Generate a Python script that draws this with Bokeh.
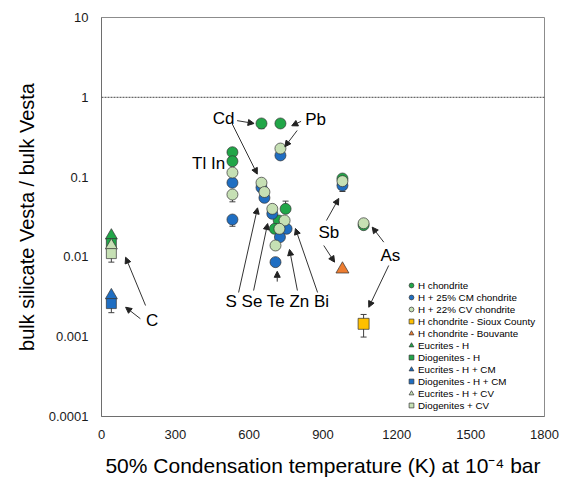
from bokeh.plotting import figure
from bokeh.models import (ColumnDataSource, FixedTicker, CustomJSTickFormatter, Span,
                          Whisker, TeeHead, Arrow, NormalHead, Legend, LegendItem, Range1d)
from bokeh.core.properties import value
from bokeh.embed import file_html
from bokeh.resources import INLINE

# ---------------- data ----------------
# H chondrite (green circles)
h_T = [650, 727, 532, 532, 748, 720, 704, 979, 1065]
h_v = [0.47, 0.47, 0.205, 0.158, 0.040, 0.0286, 0.0225, 0.096, 0.025]
# H + 25% CM chondrite (blue circles)
cm_T = [727, 532, 532, 650, 662, 694, 752, 725, 707, 979]
cm_v = [0.187, 0.085, 0.0294, 0.074, 0.055, 0.0347, 0.0225, 0.0177, 0.0086, 0.0785]
# H + 22% CV chondrite (light green circles)
cv_T = [727, 532, 532, 650, 662, 694, 744, 723, 707, 979, 1065]
cv_v = [0.228, 0.114, 0.0605, 0.085, 0.065, 0.040, 0.0286, 0.0225, 0.0139, 0.089, 0.0264]
# single samples
sioux_T, sioux_v = [1065], [0.00145]
bouv_T, bouv_v = [979], [0.0070]
# carbon (C) group
c_T = [40]
euc_h_v = [0.0185]
dio_h_v = [0.0147]
euc_cm_v = [0.0033]
dio_cm_v = [0.0026]
euc_cv_v = [0.0139]
dio_cv_v = [0.0110]

# error bars
err_T = [650, 532, 532, 748, 979, 40, 40, 1065]
err_lo = [0.405, 0.049, 0.0242, 0.040, 0.066, 0.0086, 0.0020, 0.00099]
err_hi = [0.47, 0.0605, 0.0294, 0.050, 0.0785, 0.0110, 0.0026, 0.0019]

# element labels
lab_text = ["Cd", "Pb", "Tl In", "S Se Te Zn Bi", "Sb", "As", "C"]
lab_T = [496, 870, 435, 715, 924, 1174, 206]
lab_v = [0.542, 0.527, 0.148, 0.00276, 0.0204, 0.0104, 0.0016]

# annotation arrows (tail -> head)
arr_T0 = [551, 531, 811, 795, 557, 618, 714, 796, 878, 914, 903, 1147, 1167, 179, 158]
arr_v0 = [0.51, 0.465, 0.50, 0.384, 0.00358, 0.00379, 0.0049, 0.00379, 0.00358, 0.0286, 0.0139, 0.0153, 0.0078, 0.00246, 0.00168]
arr_T1 = [620, 633, 773, 745, 634, 675, 714, 764, 788, 964, 947, 1100, 1086, 98, 98]
arr_v1 = [0.47, 0.109, 0.44, 0.24, 0.0412, 0.0262, 0.0066, 0.0124, 0.0227, 0.054, 0.0086, 0.0236, 0.00234, 0.0099, 0.00234]

x_ticks = [0, 300, 600, 900, 1200, 1500, 1800]
y_ticks = [0.0001, 0.001, 0.01, 0.1, 1, 10]
y_tick_labels = ["0.0001", "0.001", "0.01", "0.1", "1", "10"]

GREEN = "#21A648"
BLUE = "#1F6EC2"
LGREEN = "#C6E0B4"
GOLD = "#FFC000"
ORANGE = "#ED7D31"
EDGE = "#333333"
FONT = "Liberation Sans"

# ---------------- figure ----------------
p = figure(width=567, height=482, x_range=Range1d(0, 1800), y_range=Range1d(0.0001, 10),
           y_axis_type="log", output_backend="svg", toolbar_location=None,
           min_border_left=101, min_border_right=23, min_border_top=17, min_border_bottom=66)
p.background_fill_color = "white"
p.border_fill_color = "white"
p.outline_line_color = "#8c8c8c"
p.xgrid.visible = False
p.ygrid.visible = False

p.xaxis.ticker = FixedTicker(ticks=x_ticks, minor_ticks=[])
p.yaxis.ticker = FixedTicker(ticks=y_ticks, minor_ticks=[])
p.yaxis.formatter = CustomJSTickFormatter(args=dict(yt=y_ticks, yl=y_tick_labels), code="""
    for (let i = 0; i < yt.length; i++) {
        if (Math.abs(Math.log10(yt[i]) - Math.log10(tick)) < 1e-6) return yl[i];
    }
    return '';
""")
for ax in (p.xaxis, p.yaxis):
    ax.major_tick_out = 0
    ax.major_tick_in = 0
    ax.minor_tick_out = 0
    ax.minor_tick_in = 0
    ax.axis_line_color = "#6e6e6e"
    ax.major_label_text_font = FONT
    ax.major_label_text_font_size = "13px"
    ax.major_label_text_color = "#1a1a1a"
    ax.axis_label_text_font = FONT
    ax.axis_label_text_font_style = "normal"
    ax.axis_label_text_color = "#000000"

p.xaxis.axis_label = "50% Condensation temperature (K) at 10\u207b\u2074 bar"
p.xaxis.axis_label_text_font_size = "21px"
p.xaxis.major_label_standoff = 13
p.xaxis.axis_label_standoff = 12

p.yaxis.axis_label = "bulk silicate Vesta / bulk Vesta"
p.yaxis.axis_label_text_font_size = "20px"
p.yaxis.major_label_standoff = 13
p.yaxis.axis_label_standoff = 8

# reference line at 1
p.add_layout(Span(location=1, dimension="width", line_color="#444444", line_width=1, line_dash="2 1"))

# error bars
err_src = ColumnDataSource(dict(x=err_T, lo=err_lo, hi=err_hi))
p.add_layout(Whisker(source=err_src, base="x", lower="lo", upper="hi", dimension="height",
                     line_color="#404040", line_width=1,
                     lower_head=TeeHead(size=6, line_color="#404040", line_width=1),
                     upper_head=TeeHead(size=6, line_color="#404040", line_width=1)))

kw = dict(line_color=EDGE, line_width=0.7)
r_h = p.scatter(h_T, h_v, marker="circle", size=11, fill_color=GREEN, **kw)
r_cm = p.scatter(cm_T, cm_v, marker="circle", size=11, fill_color=BLUE, **kw)
r_cv = p.scatter(cv_T, cv_v, marker="circle", size=11, fill_color=LGREEN, **kw)
r_sioux = p.scatter(sioux_T, sioux_v, marker="square", size=11, fill_color=GOLD, **kw)
r_bouv = p.scatter(bouv_T, bouv_v, marker="triangle", size=13, fill_color=ORANGE, **kw)
r_euc_h = p.scatter(c_T, euc_h_v, marker="triangle", size=12, fill_color=GREEN, **kw)
r_dio_h = p.scatter(c_T, dio_h_v, marker="square", size=10, fill_color=GREEN, **kw)
r_euc_cm = p.scatter(c_T, euc_cm_v, marker="triangle", size=12, fill_color=BLUE, **kw)
r_dio_cm = p.scatter(c_T, dio_cm_v, marker="square", size=10, fill_color=BLUE, **kw)
r_euc_cv = p.scatter(c_T, euc_cv_v, marker="triangle", size=12, fill_color=LGREEN, **kw)
r_dio_cv = p.scatter(c_T, dio_cv_v, marker="square", size=10, fill_color=LGREEN, **kw)

# element labels
p.text(x=lab_T, y=lab_v, text=lab_text, text_font=value(FONT), text_font_size=value("17px"),
       text_align="center", text_baseline="middle", text_color="#000000")

# arrows
arr_src = ColumnDataSource(dict(x0=arr_T0, y0=arr_v0, x1=arr_T1, y1=arr_v1))
p.add_layout(Arrow(source=arr_src, x_start="x0", y_start="y0", x_end="x1", y_end="y1",
                   line_color="#333333", line_width=1,
                   end=NormalHead(size=6, fill_color="#222222", line_color="#222222", line_width=1)))

# legend
items = [
    LegendItem(label="H chondrite", renderers=[r_h]),
    LegendItem(label="H + 25% CM chondrite", renderers=[r_cm]),
    LegendItem(label="H + 22% CV chondrite", renderers=[r_cv]),
    LegendItem(label="H chondrite - Sioux County", renderers=[r_sioux]),
    LegendItem(label="H chondrite - Bouvante", renderers=[r_bouv]),
    LegendItem(label="Eucrites - H", renderers=[r_euc_h]),
    LegendItem(label="Diogenites - H", renderers=[r_dio_h]),
    LegendItem(label="Eucrites - H + CM", renderers=[r_euc_cm]),
    LegendItem(label="Diogenites - H + CM", renderers=[r_dio_cm]),
    LegendItem(label="Eucrites - H + CV", renderers=[r_euc_cv]),
    LegendItem(label="Diogenites + CV", renderers=[r_dio_cv]),
]
legend = Legend(items=items, location=(301, 3), orientation="vertical",
                label_text_font=FONT, label_text_font_size="9.8px", label_text_color="#000000",
                glyph_width=14, glyph_height=12, label_height=12, label_standoff=0,
                spacing=0, padding=2, margin=0,
                background_fill_alpha=0, border_line_alpha=0)
p.add_layout(legend)

open("out.html", "w").write(file_html(p, INLINE))
